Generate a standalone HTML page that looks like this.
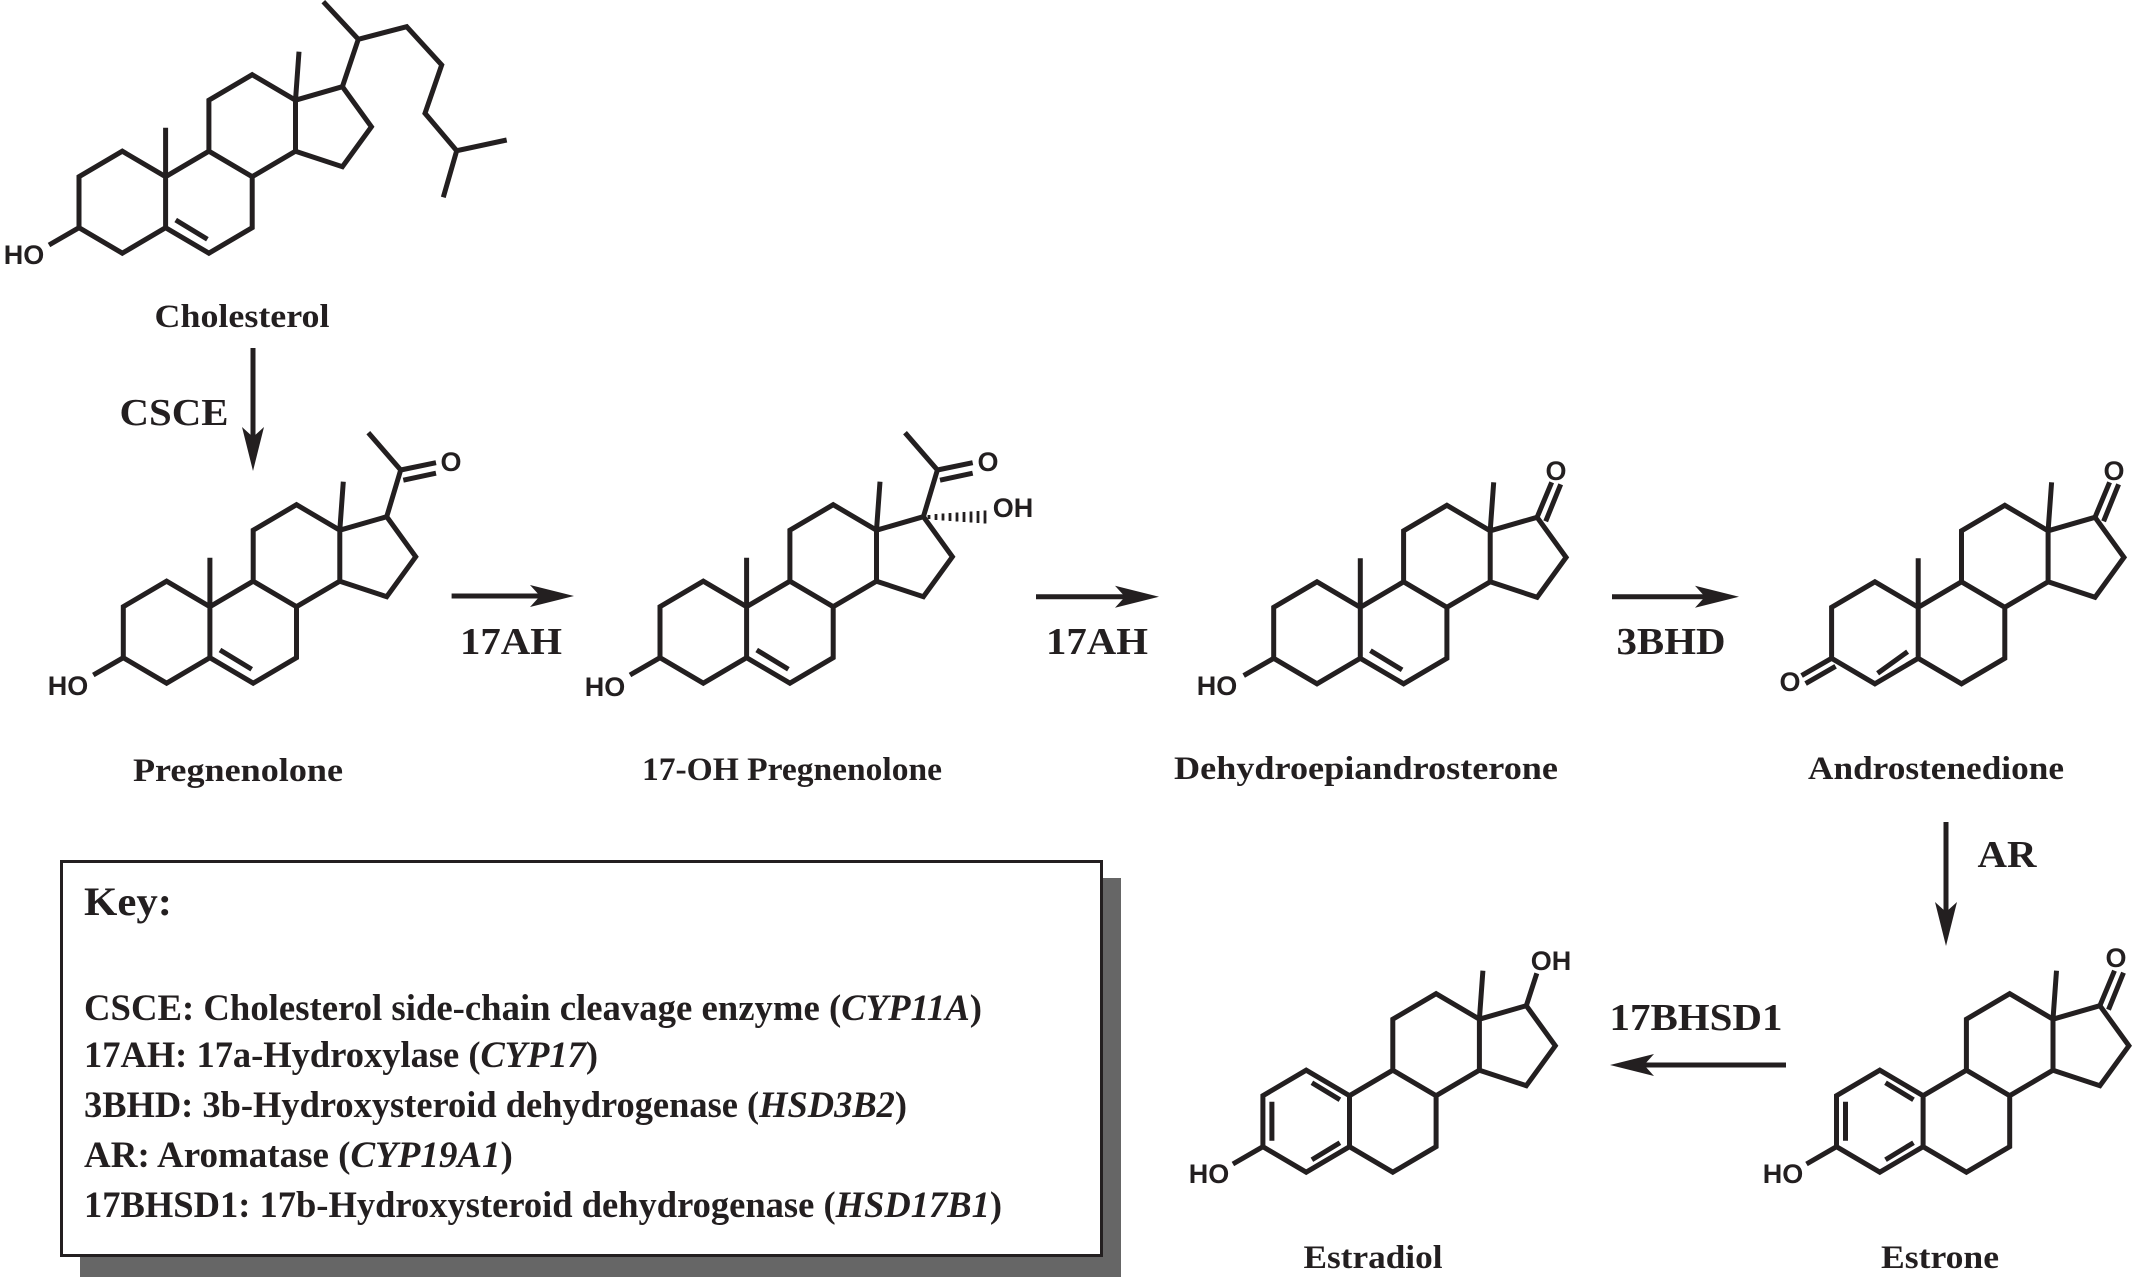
<!DOCTYPE html>
<html><head><meta charset="utf-8"><style>
html,body{margin:0;padding:0;background:#fff;}
svg{display:block;}
.lbl{font-family:"Liberation Serif",serif;font-weight:bold;font-size:33px;fill:#231f20;}
.enz{font-family:"Liberation Serif",serif;font-weight:bold;font-size:38px;fill:#231f20;}
.at{font-family:"Liberation Sans",sans-serif;font-weight:bold;font-size:27px;fill:#231f20;}
.key{font-family:"Liberation Serif",serif;font-weight:bold;font-size:37px;fill:#231f20;}
</style></head><body>
<svg width="2133" height="1277" viewBox="0 0 2133 1277" xmlns="http://www.w3.org/2000/svg">
<defs>
<path id="core" d="M0,0 L0,-51 L43.3,-76.5 L86.6,-51 L86.6,0 L43.3,25.5 Z M86.6,0 L129.9,25.5 L173.2,0 L173.2,-51 L129.9,-76.5 L86.6,-51 M129.9,-76.5 L129.9,-127.5 L173.2,-153 L216.5,-127.5 L216.5,-76.5 L173.2,-51 M216.5,-127.5 L263.4,-141 L292.4,-100.9 L263.4,-61 L216.5,-76.5 M216.5,-127.5 L220,-176"/>
<path id="me19" d="M86.6,-51 L86.6,-100"/>
<path id="hob" d="M0,0 L-30,17.3"/>
<path id="d5" d="M96.7,-7.7 L128.4,11.6"/>
<path id="acetyl" d="M263.4,-141 L277.4,-187.7 L245,-225 M277.4,-187.7 L312.7,-195 M280,-177.5 L312.7,-184.5"/>
<path id="keto17" d="M263.4,-141 L278,-176 M272,-137 L287,-174"/>
</defs>
<g fill="none" stroke="#231f20" stroke-width="5" stroke-linejoin="miter" stroke-linecap="butt">
<g transform="translate(79,227.7)">
<use href="#core"/><use href="#me19"/><use href="#hob"/><use href="#d5"/>
<path d="M263.4,-141 L279.3,-188.4 L244.3,-226 M279.3,-188.4 L327.7,-201 L362.7,-162.7 L346,-114.4 L377.7,-77 L427.7,-87.7 M377.7,-77 L364.3,-30.4"/>
</g>
<g transform="translate(123.3,657.7)">
<use href="#core"/><use href="#me19"/><use href="#hob"/><use href="#d5"/><use href="#acetyl"/>
</g>
<g transform="translate(660,657.7)">
<use href="#core"/><use href="#me19"/><use href="#hob"/><use href="#d5"/><use href="#acetyl"/>
</g>
<g transform="translate(1273.7,658.3)">
<use href="#core"/><use href="#me19"/><use href="#hob"/><use href="#d5"/><use href="#keto17"/>
</g>
<g transform="translate(1831.6,658.3)">
<use href="#core"/><use href="#me19"/><use href="#keto17"/>
<path d="M0,0 L-30,17.3 M4,8 L-26,25.3 M46,15 L76,-6.6"/>
</g>
<g transform="translate(1262.9,1146.7)">
<use href="#core"/><use href="#hob"/>
<path d="M49,-64 L77,-47 M9,-45 L9,-6 M49,13 L77,-4 M263.4,-141 L273.9,-173.4"/>
</g>
<g transform="translate(1836.5,1146.7)">
<use href="#core"/><use href="#hob"/><use href="#keto17"/>
<path d="M49,-64 L77,-47 M9,-45 L9,-6 M49,13 L77,-4"/>
</g>
<path d="M253,348 L253,440 M451.6,596 L545,596 M1036,596.7 L1130,596.7 M1612,596.7 L1708,596.7 M1946,822 L1946,916 M1786,1065 L1640,1065"/>
</g>
<g stroke="#231f20" stroke-width="2.8">
<line x1="929" y1="515" x2="929" y2="519"/><line x1="936" y1="514" x2="936" y2="520"/>
<line x1="943" y1="513.5" x2="943" y2="520.5"/><line x1="950" y1="513" x2="950" y2="521"/>
<line x1="957" y1="512.5" x2="957" y2="521.5"/><line x1="964" y1="512" x2="964" y2="522"/>
<line x1="971" y1="511.5" x2="971" y2="522.5"/><line x1="978" y1="511" x2="978" y2="523"/>
<line x1="985" y1="510.5" x2="985" y2="523.5"/>
</g>
<g fill="#231f20">
<polygon points="253,471 242,427 253,437 264,427"/>
<polygon points="574,596 530,585 540,596 530,607"/>
<polygon points="1159,596.7 1115,585.7 1125,596.7 1115,607.7"/>
<polygon points="1739,596.7 1695,585.7 1705,596.7 1695,607.7"/>
<polygon points="1946,946 1935,902 1946,912 1957,902"/>
<polygon points="1610,1065 1654,1054 1644,1065 1654,1076"/>
</g>
<g class="at" text-anchor="middle">
<text x="24" y="264">HO</text>
<text x="68" y="695">HO</text>
<text x="451" y="471">O</text>
<text x="605" y="696">HO</text>
<text x="988" y="471">O</text>
<text x="1013" y="517">OH</text>
<text x="1217" y="695">HO</text>
<text x="1556" y="480">O</text>
<text x="1790" y="691">O</text>
<text x="2114" y="480">O</text>
<text x="1551" y="970">OH</text>
<text x="1209" y="1183">HO</text>
<text x="2116" y="967">O</text>
<text x="1783" y="1183">HO</text>
</g>
<g class="lbl" text-anchor="middle">
<text x="242" y="327" textLength="175" lengthAdjust="spacingAndGlyphs">Cholesterol</text>
<text x="238" y="781" textLength="210" lengthAdjust="spacingAndGlyphs">Pregnenolone</text>
<text x="792" y="780" textLength="300" lengthAdjust="spacingAndGlyphs">17-OH Pregnenolone</text>
<text x="1366" y="779" textLength="384" lengthAdjust="spacingAndGlyphs">Dehydroepiandrosterone</text>
<text x="1936" y="779" textLength="256" lengthAdjust="spacingAndGlyphs">Androstenedione</text>
<text x="1373" y="1268" textLength="139" lengthAdjust="spacingAndGlyphs">Estradiol</text>
<text x="1940" y="1268" textLength="118" lengthAdjust="spacingAndGlyphs">Estrone</text>
</g>
<g class="enz" text-anchor="middle">
<text x="174" y="425" textLength="109" lengthAdjust="spacingAndGlyphs">CSCE</text>
<text x="511" y="654" textLength="102" lengthAdjust="spacingAndGlyphs">17AH</text>
<text x="1097" y="654" textLength="102" lengthAdjust="spacingAndGlyphs">17AH</text>
<text x="1671" y="654" textLength="109" lengthAdjust="spacingAndGlyphs">3BHD</text>
<text x="2007" y="867" textLength="59" lengthAdjust="spacingAndGlyphs">AR</text>
<text x="1696" y="1030" textLength="173" lengthAdjust="spacingAndGlyphs">17BHSD1</text>
</g>
<rect x="80" y="878" width="1041" height="399" fill="#666"/>
<rect x="61.5" y="861.5" width="1040" height="394" fill="#fff" stroke="#231f20" stroke-width="3"/>
<g class="key">
<text x="84" y="915" font-size="40" textLength="88" lengthAdjust="spacingAndGlyphs">Key:</text>
<text x="84" y="1020" textLength="898" lengthAdjust="spacingAndGlyphs">CSCE: Cholesterol side-chain cleavage enzyme (<tspan font-style="italic">CYP11A</tspan>)</text>
<text x="84" y="1067" textLength="514" lengthAdjust="spacingAndGlyphs">17AH: 17a-Hydroxylase (<tspan font-style="italic">CYP17</tspan>)</text>
<text x="84" y="1117" textLength="823" lengthAdjust="spacingAndGlyphs">3BHD: 3b-Hydroxysteroid dehydrogenase (<tspan font-style="italic">HSD3B2</tspan>)</text>
<text x="84" y="1167">AR: Aromatase (<tspan font-style="italic">CYP19A1</tspan>)</text>
<text x="84" y="1217" textLength="918" lengthAdjust="spacingAndGlyphs">17BHSD1: 17b-Hydroxysteroid dehydrogenase (<tspan font-style="italic">HSD17B1</tspan>)</text>
</g>
</svg>
</body></html>
